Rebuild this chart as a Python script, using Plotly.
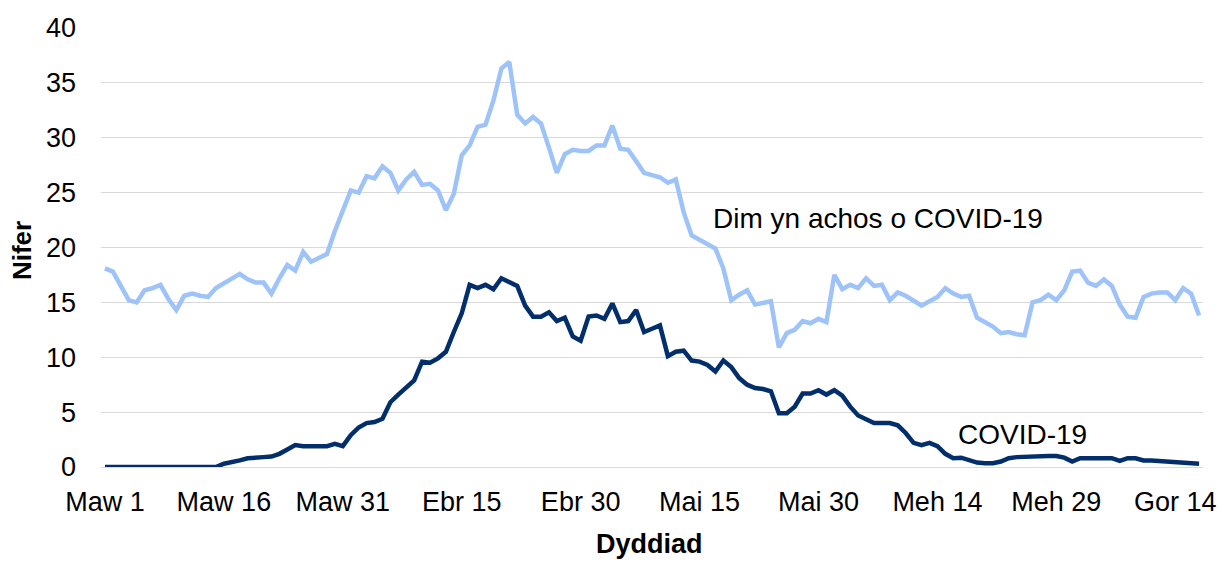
import pandas as pd
import plotly.graph_objects as go

# Daily values from 1 March to 17 July
start_date = "2020-03-01"
dim_covid = [
    18.1, 17.8, 16.5, 15.2, 15.0, 16.1, 16.3, 16.6, 15.3, 14.3,
    15.6, 15.8, 15.6, 15.5, 16.3, 16.7, 17.2, 17.6, 17.1, 16.8,
    16.8, 15.8, 17.2, 18.4, 17.9, 19.6, 18.7, 19.1, 19.4, 21.5,
    23.3, 25.2, 25.0, 26.5, 26.3, 27.4, 26.8, 25.2, 26.2, 26.9,
    25.7, 25.8, 25.2, 23.4, 24.9, 28.4, 29.3, 31.0, 31.2, 33.4,
    36.3, 36.9, 32.1, 31.3, 31.9, 31.3, 29.1, 26.8, 28.5, 28.9,
    28.8, 28.8, 29.3, 29.3, 31.1, 29.0, 28.9, 27.9, 26.8, 26.6,
    26.4, 25.9, 26.2, 23.2, 21.1, 20.7, 20.3, 19.9, 18.1, 15.2,
    15.7, 16.1, 14.8, 14.9, 15.1, 10.9, 12.2, 12.5, 13.3, 13.1,
    13.5, 13.2, 17.5, 16.2, 16.6, 16.3, 17.2, 16.5, 16.6, 15.2,
    15.9, 15.6, 15.1, 14.7, 15.1, 15.5, 16.3, 15.8, 15.5, 15.6,
    13.6, 13.2, 12.8, 12.2, 12.3, 12.1, 12.0, 15.0, 15.2, 15.7,
    15.2, 16.1, 17.8, 17.9, 16.8, 16.5, 17.1, 16.5, 14.8, 13.7,
    13.6, 15.5, 15.8, 15.9, 15.9, 15.2, 16.3, 15.8, 13.8,
]
covid = [
    0, 0, 0, 0, 0, 0, 0, 0, 0, 0,
    0, 0, 0, 0, 0, 0.3, 0.4, 0.6, 0.8, 0.8,
    0.9, 0.95, 1.2, 1.6, 2.0, 1.9, 1.9, 1.9, 1.9, 2.1,
    1.9, 2.9, 3.6, 4.0, 4.1, 4.4, 5.9, 6.6, 7.2, 7.9,
    9.6, 9.5, 9.9, 10.5, 12.3, 14.0, 16.6, 16.3, 16.6, 16.2,
    17.2, 16.9, 16.5, 14.7, 13.7, 13.7, 14.1, 13.3, 13.6, 11.9,
    11.5, 13.7, 13.8, 13.5, 14.9, 13.2, 13.3, 14.3, 12.3, 12.6,
    12.9, 10.1, 10.5, 10.6, 9.7, 9.6, 9.3, 8.7, 9.7, 9.1,
    8.1, 7.5, 7.2, 7.1, 6.9, 4.9, 4.9, 5.5, 6.7, 6.7,
    7.0, 6.6, 7.0, 6.5, 5.5, 4.7, 4.3, 4.0, 4.0, 4.0,
    3.8, 3.1, 2.2, 2.0, 2.2, 1.9, 1.2, 0.8, 0.85, 0.6,
    0.4, 0.35, 0.35, 0.5, 0.8, 0.9, 0.95, 1.0, 1.0, 1.0,
    1.0, 0.85, 0.5, 0.8, 0.8, 0.8, 0.8, 0.8, 0.55, 0.8,
    0.8, 0.6, 0.6, 0.55, 0.55, 0.5, 0.5, 0.35, 0.3,
]
tick_dates = ["2020-03-01", "2020-03-16", "2020-03-31", "2020-04-15", "2020-04-30",
              "2020-05-15", "2020-05-30", "2020-06-14", "2020-06-29", "2020-07-14"]
tick_labels = ["Maw 1", "Maw 16", "Maw 31", "Ebr 15", "Ebr 30",
               "Mai 15", "Mai 30", "Meh 14", "Meh 29", "Gor 14"]
y_ticks = [0, 5, 10, 15, 20, 25, 30, 35, 40]

dates = pd.date_range(start_date, periods=len(covid), freq="D")

FONT = "Liberation Sans, Arial, sans-serif"
LIGHT = "#9DC3F9"
DARK = "#022F6B"

fig = go.Figure()
fig.add_trace(go.Scatter(x=dates, y=dim_covid, mode="lines",
                         line=dict(color=LIGHT, width=4.5), name="Dim yn achos o COVID-19"))
fig.add_trace(go.Scatter(x=dates, y=covid, mode="lines",
                         line=dict(color=DARK, width=4.5), name="COVID-19"))

fig.update_layout(
    width=1220, height=562,
    margin=dict(l=101, r=17, t=28, b=95, autoexpand=False),
    paper_bgcolor="white", plot_bgcolor="white",
    showlegend=False,
    font=dict(family=FONT, size=27, color="#000000"),
    annotations=[
        dict(x="2020-05-16 12:00", y=22.6, xref="x", yref="y", text="Dim yn achos o COVID-19",
             showarrow=False, xanchor="left", yanchor="middle",
             font=dict(family=FONT, size=28, color="#000000")),
        dict(x="2020-06-16 08:00", y=3.0, xref="x", yref="y", text="COVID-19",
             showarrow=False, xanchor="left", yanchor="middle",
             font=dict(family=FONT, size=28, color="#000000")),
        dict(x=-0.0717, y=0.494, xref="paper", yref="paper", text="<b>Nifer</b>",
             showarrow=False, textangle=-90, xanchor="center", yanchor="middle",
             font=dict(family=FONT, size=26, color="#000000")),
        dict(x=0.498, y=-0.176, xref="paper", yref="paper", text="<b>Dyddiad</b>",
             showarrow=False, xanchor="center", yanchor="middle",
             font=dict(family=FONT, size=27, color="#000000")),
    ],
)
fig.update_xaxes(
    type="date",
    range=["2020-02-29 12:00", "2020-07-17 12:00"],
    tickmode="array", tickvals=tick_dates, ticktext=tick_labels,
    showgrid=False, zeroline=False, showline=False, ticks="",
    ticklabelstandoff=16,
    tickfont=dict(family=FONT, size=27, color="#000000"),
)
fig.update_yaxes(
    range=[0, 40], tickmode="array", tickvals=y_ticks,
    showgrid=True, gridcolor="#D9D9D9", gridwidth=1,
    zeroline=True, zerolinecolor="#D9D9D9", zerolinewidth=1,
    showline=False, ticks="",
    ticklabelstandoff=24,
    tickfont=dict(family=FONT, size=27, color="#000000"),
)

fig.write_html("out.html", config={"displayModeBar": False},
               post_script="document.body.style.margin='0';")
